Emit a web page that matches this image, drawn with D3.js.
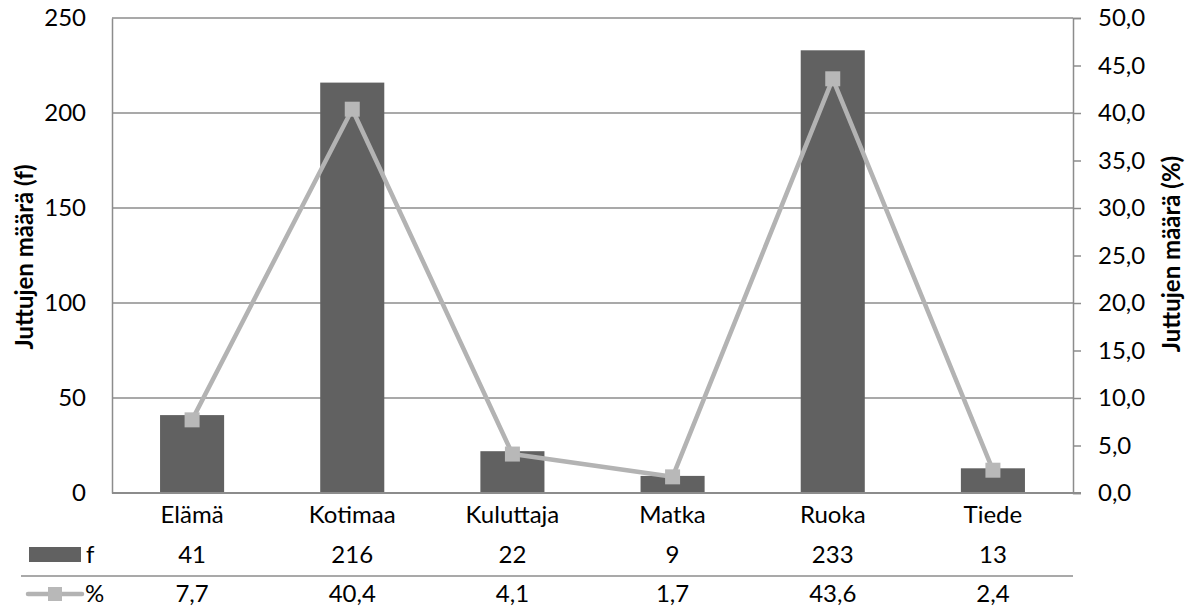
<!DOCTYPE html>
<html>
<head>
<meta charset="utf-8">
<script src="https://cdn.jsdelivr.net/npm/d3@7"></script>
<style>
  body { margin: 0; background: #fff; }
  svg text { font-family: Lato, 'Open Sans', sans-serif; fill: #000; }
</style>
</head>
<body>
<div id="chart"></div>
<script>
// data
const categories = ['Elämä', 'Kotimaa', 'Kuluttaja', 'Matka', 'Ruoka', 'Tiede'];
const countValues = [41, 216, 22, 9, 233, 13];
const percentValues = [7.7, 40.4, 4.1, 1.7, 43.6, 2.4];
const leftTicks = [0, 50, 100, 150, 200, 250];
const rightTicks = [0, 5, 10, 15, 20, 25, 30, 35, 40, 45, 50];

const width = 1195;
const height = 609;
const plot = { left: 112, right: 1073, top: 18, bottom: 493 };

const barColor = '#616161';
const lineColor = '#b3b3b3';
const gridColor = '#8c8c8c';
const fs = 24;

const svg = d3.select('#chart')
  .append('svg')
  .attr('width', width)
  .attr('height', height);

// scales
const x = d3.scaleBand()
  .domain(categories)
  .range([plot.left, plot.right]);

const yLeft = d3.scaleLinear()
  .domain([0, 250])
  .range([plot.bottom, plot.top]);

const yRight = d3.scaleLinear()
  .domain([0, 50])
  .range([plot.bottom, plot.top]);

const fmtPct = (v) => d3.format('.1f')(v).replace('.', ',');

// gridlines
svg.append('g')
  .selectAll('line')
  .data(leftTicks.filter((d) => d > 0))
  .enter()
  .append('line')
  .attr('x1', plot.left)
  .attr('x2', plot.right)
  .attr('y1', (d) => yLeft(d))
  .attr('y2', (d) => yLeft(d))
  .attr('stroke', gridColor)
  .attr('stroke-width', 1.5);

// left axis (labels only + axis line)
const leftAxis = svg.append('g')
  .attr('transform', `translate(${plot.left},0)`)
  .call(d3.axisLeft(yLeft).tickValues(leftTicks).tickSize(0).tickPadding(26));
leftAxis.select('.domain').attr('stroke', gridColor).attr('stroke-width', 1.5);
leftAxis.selectAll('text').style('font-size', fs + 'px');

// right axis
const rightAxis = svg.append('g')
  .attr('transform', `translate(${plot.right},0)`)
  .call(d3.axisRight(yRight).tickValues(rightTicks).tickSize(8).tickPadding(17).tickFormat(fmtPct));
rightAxis.select('.domain').attr('stroke', gridColor).attr('stroke-width', 1.5);
rightAxis.selectAll('line').attr('stroke', gridColor).attr('stroke-width', 1.5);
rightAxis.selectAll('text').style('font-size', fs + 'px');

// bars
const barW = x.bandwidth() * 0.4;
svg.append('g')
  .selectAll('rect')
  .data(categories)
  .enter()
  .append('rect')
  .attr('x', (d) => x(d) + (x.bandwidth() - barW) / 2)
  .attr('y', (d, i) => yLeft(countValues[i]))
  .attr('width', barW)
  .attr('height', (d, i) => plot.bottom - yLeft(countValues[i]))
  .attr('fill', barColor);

// bottom axis line
svg.append('line')
  .attr('x1', plot.left)
  .attr('x2', plot.right + 8)
  .attr('y1', plot.bottom)
  .attr('y2', plot.bottom)
  .attr('stroke', gridColor)
  .attr('stroke-width', 2);

// percentage line
const line = d3.line()
  .x((d, i) => x(categories[i]) + x.bandwidth() / 2)
  .y((d) => yRight(d));

svg.append('path')
  .datum(percentValues)
  .attr('d', line)
  .attr('fill', 'none')
  .attr('stroke', lineColor)
  .attr('stroke-width', 4.5)
  .attr('stroke-linejoin', 'round');

const mk = 15;
svg.append('g')
  .selectAll('rect')
  .data(percentValues)
  .enter()
  .append('rect')
  .attr('x', (d, i) => x(categories[i]) + x.bandwidth() / 2 - mk / 2)
  .attr('y', (d) => yRight(d) - mk / 2)
  .attr('width', mk)
  .attr('height', mk)
  .attr('fill', '#b8b8b8');

// category labels
svg.append('g')
  .selectAll('text')
  .data(categories)
  .enter()
  .append('text')
  .attr('x', (d) => x(d) + x.bandwidth() / 2)
  .attr('y', 515)
  .attr('dy', '0.35em')
  .attr('text-anchor', 'middle')
  .style('font-size', fs + 'px')
  .text((d) => d);

// data table
const rowF = 555;
const rowP = 594;

svg.append('g')
  .selectAll('text')
  .data(countValues)
  .enter()
  .append('text')
  .attr('x', (d, i) => x(categories[i]) + x.bandwidth() / 2)
  .attr('y', rowF)
  .attr('dy', '0.35em')
  .attr('text-anchor', 'middle')
  .style('font-size', fs + 'px')
  .text((d) => d);

svg.append('g')
  .selectAll('text')
  .data(percentValues)
  .enter()
  .append('text')
  .attr('x', (d, i) => x(categories[i]) + x.bandwidth() / 2)
  .attr('y', rowP)
  .attr('dy', '0.35em')
  .attr('text-anchor', 'middle')
  .style('font-size', fs + 'px')
  .text((d) => fmtPct(d));

svg.append('line')
  .attr('x1', 21)
  .attr('x2', plot.right)
  .attr('y1', 576)
  .attr('y2', 576)
  .attr('stroke', gridColor)
  .attr('stroke-width', 1.5);

// legend keys in table
svg.append('rect')
  .attr('x', 29)
  .attr('y', 547)
  .attr('width', 52)
  .attr('height', 15)
  .attr('fill', barColor);
svg.append('text')
  .attr('x', 86)
  .attr('y', rowF)
  .attr('dy', '0.35em')
  .style('font-size', fs + 'px')
  .text('f');

svg.append('line')
  .attr('x1', 28)
  .attr('x2', 82)
  .attr('y1', 594)
  .attr('y2', 594)
  .attr('stroke', lineColor)
  .attr('stroke-width', 4.5)
  .attr('stroke-linecap', 'round');
svg.append('rect')
  .attr('x', 48)
  .attr('y', 587)
  .attr('width', 14)
  .attr('height', 14)
  .attr('fill', '#b8b8b8');
svg.append('text')
  .attr('x', 85)
  .attr('y', rowP)
  .attr('dy', '0.35em')
  .style('font-size', fs + 'px')
  .text('%');

// axis titles
svg.append('text')
  .attr('transform', 'translate(25,257) rotate(-90)')
  .attr('text-anchor', 'middle')
  .attr('dy', '0.35em')
  .style('font-size', '24px')
  .style('font-weight', 'bold')
  .text('Juttujen määrä (f)');

svg.append('text')
  .attr('transform', 'translate(1172,254) rotate(-90)')
  .attr('text-anchor', 'middle')
  .attr('dy', '0.35em')
  .style('font-size', '24px')
  .style('font-weight', 'bold')
  .text('Juttujen määrä (%)');
</script>
</body>
</html>
